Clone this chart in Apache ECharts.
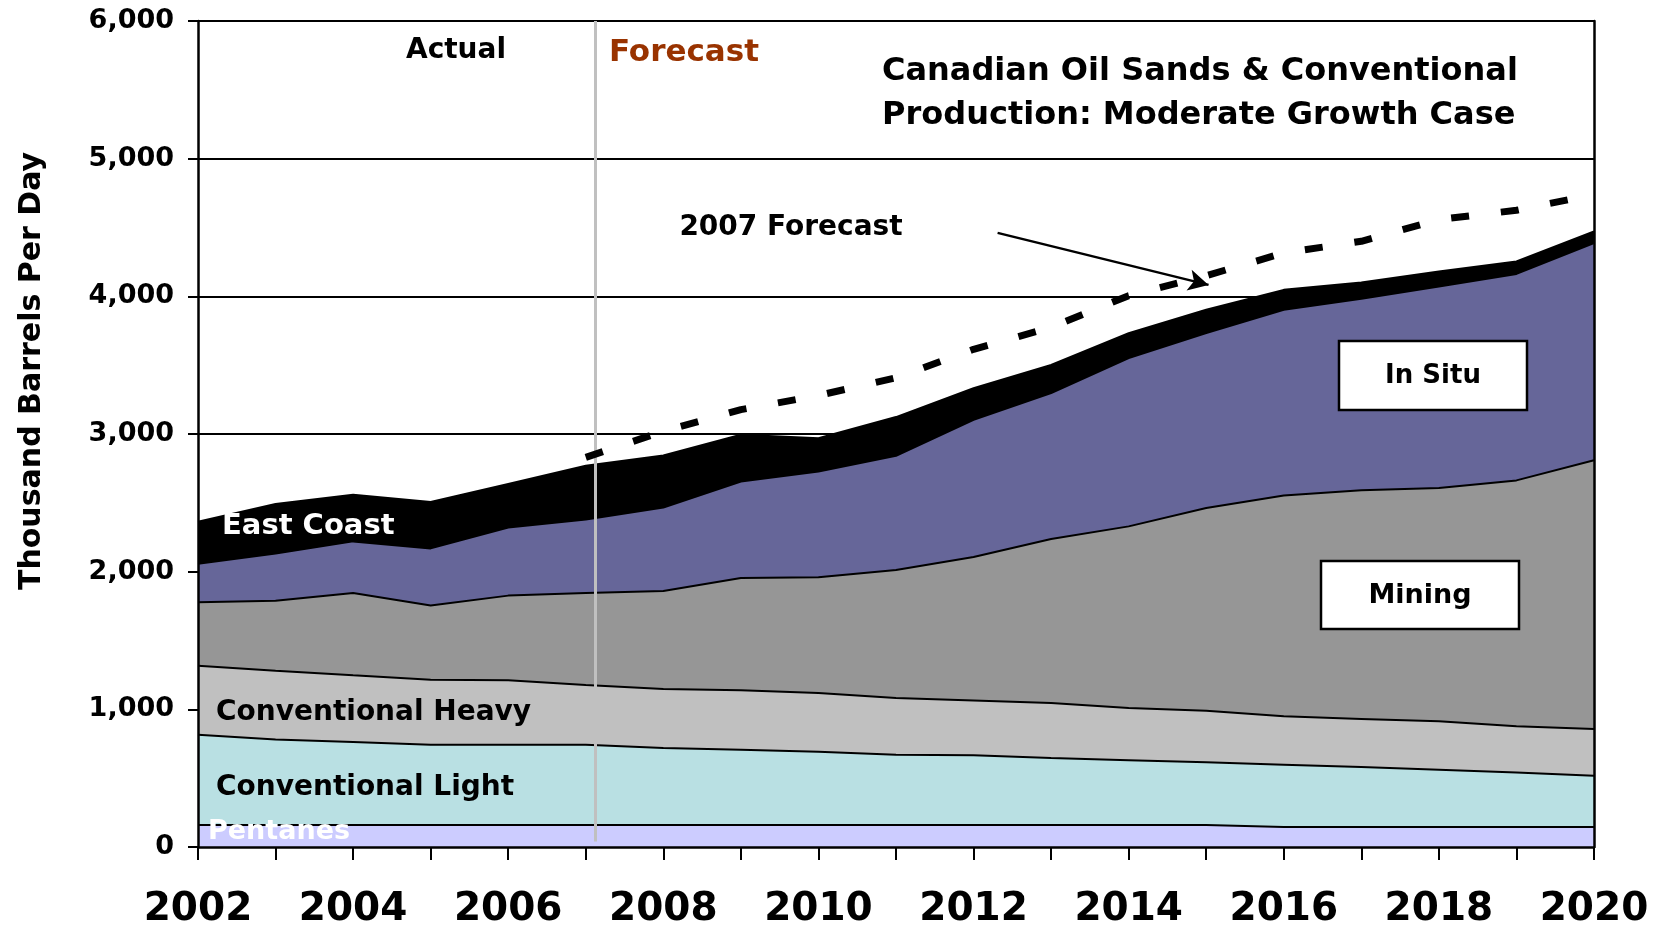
<!DOCTYPE html>
<html>
<head>
<meta charset="utf-8">
<script src="https://cdn.jsdelivr.net/npm/echarts/dist/echarts.min.js"></script>
<style>
  html, body { margin: 0; padding: 0; background: #fff; }
  #chart { width: 1661px; height: 925px; }
</style>
</head>
<body>
<div id="chart"></div>
<script>
// yearly production, thousand barrels per day (stacked layers, bottom to top)
const years = [2002, 2003, 2004, 2005, 2006, 2007, 2008, 2009, 2010, 2011, 2012, 2013, 2014, 2015, 2016, 2017, 2018, 2019, 2020];
const pentanes = [160, 160, 160, 160, 160, 160, 160, 160, 160, 160, 160, 160, 160, 160, 145, 145, 145, 145, 145];
const convLight = [656, 620, 603, 583, 583, 583, 559, 547, 532, 511, 506, 486, 470, 455, 453, 436, 417, 397, 373];
const convHeavy = [501, 501, 484, 472, 468, 434, 429, 431, 427, 411, 399, 400, 380, 375, 351, 349, 351, 335, 339];
const mining = [460, 508, 598, 540, 615, 668, 712, 816, 841, 930, 1041, 1191, 1319, 1472, 1605, 1661, 1695, 1786, 1952];
const inSitu = [281, 342, 375, 414, 494, 533, 606, 701, 768, 830, 997, 1060, 1222, 1271, 1348, 1391, 1463, 1500, 1578];
const eastCoast = [305, 361, 339, 337, 317, 392, 378, 339, 242, 281, 230, 205, 182, 169, 145, 118, 109, 90, 84];

// 2007 forecast total (dashed line)
const forecastYears = [2007, 2008, 2009, 2010, 2011, 2012, 2013, 2014, 2015, 2016, 2017, 2018, 2019, 2020];
const forecast2007 = [2830, 3020, 3177, 3280, 3408, 3615, 3775, 4005, 4150, 4315, 4400, 4558, 4625, 4740];

const yTicks = [0, 1000, 2000, 3000, 4000, 5000, 6000];
const dividerYear = 2007.12;   // actual / forecast split
const arrowFrom = [2012.31, 4461];
const arrowTo = [2015.03, 4083];

const FONT = 'DejaVu Sans';

const myChart = echarts.init(document.getElementById('chart'));

const layers = [
  {name: 'Pentanes', data: pentanes, color: '#ccccff'},
  {name: 'Conventional Light', data: convLight, color: '#b9e0e3'},
  {name: 'Conventional Heavy', data: convHeavy, color: '#c0c0c0'},
  {name: 'Mining', data: mining, color: '#969696'},
  {name: 'In Situ', data: inSitu, color: '#666699'},
  {name: 'East Coast', data: eastCoast, color: '#000000'}
];

// running totals, so each layer is drawn as a filled area down to zero
let running = years.map(() => 0);
let stacked = layers.map(l => {
  running = running.map((v, i) => v + l.data[i]);
  return {name: l.name, color: l.color, top: running.slice()};
});

// top layer first, lower layers painted over it
let seriesData = stacked.slice().reverse().map(l => ({
  name: l.name,
  type: 'line',
  symbol: 'none',
  z: 2,
  lineStyle: {color: '#000', width: 2},
  areaStyle: {color: l.color, opacity: 1},
  data: years.map((y, i) => [y, l.top[i]])
}));

seriesData.push({
  name: '2007 Forecast',
  type: 'line',
  symbol: 'none',
  z: 5,
  lineStyle: {color: '#000', width: 7, type: [18, 32], cap: 'butt'},
  data: forecastYears.map((y, i) => [y, forecast2007[i]]),
  markLine: {
    silent: true,
    symbol: ['none', 'none'],
    label: {show: false},
    data: [
      [
        {coord: [dividerYear, yTicks[yTicks.length - 1]], lineStyle: {color: '#c0c0c0', width: 3, type: 'solid'}},
        {coord: [dividerYear, 40]}
      ],
      [
        {coord: arrowFrom, symbol: 'none', lineStyle: {color: '#000', width: 2.5, type: 'solid'}},
        {coord: arrowTo, symbol: 'arrow', symbolSize: [16, 20]}
      ]
    ]
  }
});

const yMin = yTicks[0], yMax = yTicks[yTicks.length - 1], yStep = yTicks[1] - yTicks[0];

let option = {
  animation: false,
  backgroundColor: '#fff',
  grid: {left: 198, right: 67, top: 21, bottom: 78, containLabel: false, outerBoundsMode: 'none'},
  xAxis: {
    type: 'value',
    min: years[0],
    max: years[years.length - 1],
    interval: 1,
    z: 10,
    axisLine: {show: true, onZero: false, lineStyle: {color: '#000', width: 2.5}},
    axisTick: {show: true, inside: false, length: 13, lineStyle: {color: '#000', width: 2}},
    splitLine: {show: false},
    axisLabel: {
      margin: 43,
      fontFamily: FONT,
      fontWeight: 'bold',
      fontSize: 39,
      color: '#000',
      formatter: v => (v % 2 === 0 ? String(v) : '')
    }
  },
  yAxis: [
    {
      type: 'value', min: yMin, max: yMax, interval: yStep,
      axisLine: {show: false}, axisTick: {show: false}, axisLabel: {show: false},
      splitLine: {show: true, lineStyle: {color: '#000', width: 2}}
    },
    {
      type: 'value', min: yMin, max: yMax, interval: yStep, position: 'left', z: 10,
      axisLine: {show: true, lineStyle: {color: '#000', width: 2.5}},
      axisTick: {show: true, length: 10, lineStyle: {color: '#000', width: 2}},
      splitLine: {show: false},
      axisLabel: {
        margin: 24,
        fontFamily: FONT,
        fontWeight: 'bold',
        fontSize: 27,
        color: '#000',
        formatter: v => v.toLocaleString('en-US')
      }
    },
    {
      type: 'value', min: yMin, max: yMax, interval: yStep, position: 'right', z: 10,
      axisLine: {show: true, lineStyle: {color: '#000', width: 2.5}},
      axisTick: {show: false}, axisLabel: {show: false}, splitLine: {show: false}
    }
  ],
  series: seriesData,
  graphic: [
    {type: 'text', x: 32, y: 371, rotation: Math.PI / 2,
      style: {text: 'Thousand Barrels Per Day', font: 'bold 30px ' + FONT, fill: '#000', align: 'center', verticalAlign: 'middle'}},
    {type: 'text', x: 456, y: 51,
      style: {text: 'Actual', font: 'bold 28px ' + FONT, fill: '#000', align: 'center', verticalAlign: 'middle'}},
    {type: 'text', x: 684, y: 53,
      style: {text: 'Forecast', font: 'bold 31px ' + FONT, fill: '#993300', align: 'center', verticalAlign: 'middle'}},
    {type: 'text', x: 882, y: 72,
      style: {text: 'Canadian Oil Sands & Conventional', font: 'bold 32px ' + FONT, fill: '#000', align: 'left', verticalAlign: 'middle'}},
    {type: 'text', x: 882, y: 116,
      style: {text: 'Production: Moderate Growth Case', font: 'bold 32px ' + FONT, fill: '#000', align: 'left', verticalAlign: 'middle'}},
    {type: 'text', x: 791, y: 228,
      style: {text: '2007 Forecast', font: 'bold 28px ' + FONT, fill: '#000', align: 'center', verticalAlign: 'middle'}},
    {type: 'text', x: 222, y: 526, z: 20,
      style: {text: 'East Coast', font: 'bold 29px ' + FONT, fill: '#fff', align: 'left', verticalAlign: 'middle'}},
    {type: 'text', x: 216, y: 713, z: 20,
      style: {text: 'Conventional Heavy', font: 'bold 28px ' + FONT, fill: '#000', align: 'left', verticalAlign: 'middle'}},
    {type: 'text', x: 216, y: 788, z: 20,
      style: {text: 'Conventional Light', font: 'bold 28px ' + FONT, fill: '#000', align: 'left', verticalAlign: 'middle'}},
    {type: 'text', x: 208, y: 832, z: 20,
      style: {text: 'Pentanes', font: 'bold 27px ' + FONT, fill: '#fff', align: 'left', verticalAlign: 'middle'}},
    {type: 'rect', z: 20, shape: {x: 1339, y: 341, width: 188, height: 69},
      style: {fill: '#fff', stroke: '#000', lineWidth: 2.5}},
    {type: 'text', x: 1433, y: 376, z: 21,
      style: {text: 'In Situ', font: 'bold 26px ' + FONT, fill: '#000', align: 'center', verticalAlign: 'middle'}},
    {type: 'rect', z: 20, shape: {x: 1321, y: 561, width: 198, height: 68},
      style: {fill: '#fff', stroke: '#000', lineWidth: 2.5}},
    {type: 'text', x: 1420, y: 596, z: 21,
      style: {text: 'Mining', font: 'bold 27px ' + FONT, fill: '#000', align: 'center', verticalAlign: 'middle'}}
  ]
};

myChart.setOption(option);
</script>
</body>
</html>
